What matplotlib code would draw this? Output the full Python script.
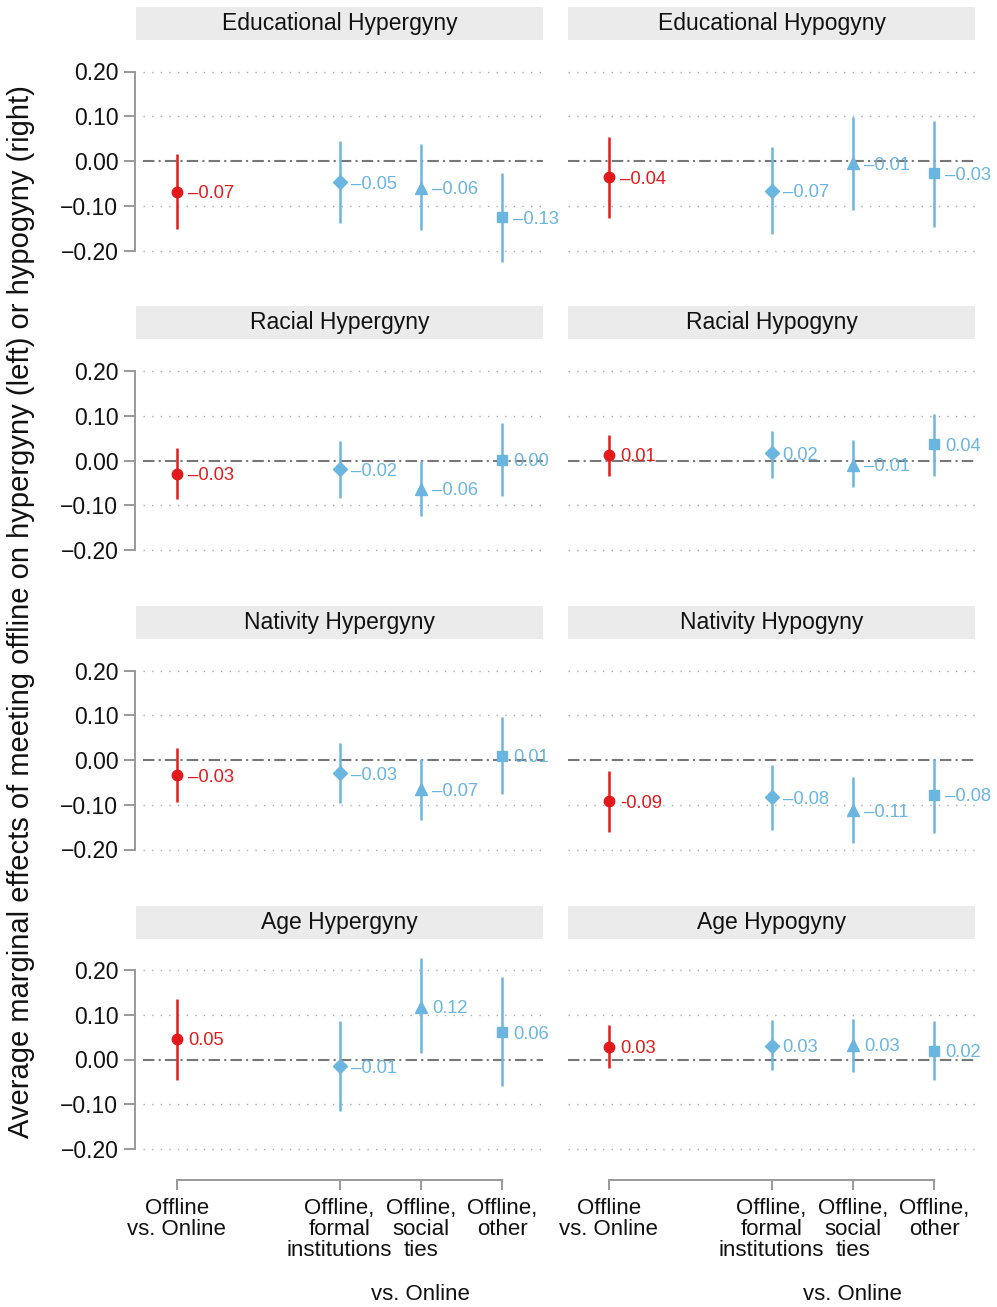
import matplotlib
matplotlib.use("Agg")
import matplotlib.pyplot as plt
from matplotlib.patches import Rectangle

plt.rcParams['font.family'] = ['Liberation Sans', 'DejaVu Sans']

# ---------------- data ----------------
panel_titles = ["Educational Hypergyny", "Educational Hypogyny",
                "Racial Hypergyny", "Racial Hypogyny",
                "Nativity Hypergyny", "Nativity Hypogyny",
                "Age Hypergyny", "Age Hypogyny"]

x_positions = [1, 3, 4, 5]
x_ticklabels = ["Offline\nvs. Online", "Offline,\nformal\ninstitutions",
                "Offline,\nsocial\nties", "Offline,\nother"]

est_edu_hyper = [-0.069, -0.048, -0.060, -0.126]
lo_edu_hyper = [-0.153, -0.139, -0.154, -0.226]
hi_edu_hyper = [0.015, 0.045, 0.037, -0.027]
lab_edu_hyper = ["\u20130.07", "\u20130.05", "\u20130.06", "\u20130.13"]

est_edu_hypo = [-0.036, -0.066, -0.005, -0.027]
lo_edu_hypo = [-0.127, -0.163, -0.109, -0.147]
hi_edu_hypo = [0.053, 0.031, 0.098, 0.090]
lab_edu_hypo = ["\u20130.04", "\u20130.07", "\u20130.01", "\u20130.03"]

est_race_hyper = [-0.030, -0.020, -0.063, 0.002]
lo_race_hyper = [-0.086, -0.083, -0.125, -0.080]
hi_race_hyper = [0.028, 0.043, 0.000, 0.084]
lab_race_hyper = ["\u20130.03", "\u20130.02", "\u20130.06", "0.00"]

est_race_hypo = [0.013, 0.016, -0.010, 0.036]
lo_race_hypo = [-0.034, -0.038, -0.060, -0.034]
hi_race_hypo = [0.058, 0.067, 0.045, 0.103]
lab_race_hypo = ["0.01", "0.02", "\u20130.01", "0.04"]

est_nat_hyper = [-0.034, -0.030, -0.065, 0.010]
lo_nat_hyper = [-0.094, -0.097, -0.133, -0.077]
hi_nat_hyper = [0.026, 0.037, 0.002, 0.096]
lab_nat_hyper = ["\u20130.03", "\u20130.03", "\u20130.07", "0.01"]

est_nat_hypo = [-0.092, -0.083, -0.112, -0.078]
lo_nat_hypo = [-0.162, -0.157, -0.186, -0.163]
hi_nat_hypo = [-0.024, -0.011, -0.039, 0.002]
lab_nat_hypo = ["-0.09", "\u20130.08", "\u20130.11", "\u20130.08"]

est_age_hyper = [0.046, -0.015, 0.118, 0.061]
lo_age_hyper = [-0.045, -0.114, 0.014, -0.060]
hi_age_hyper = [0.136, 0.085, 0.226, 0.184]
lab_age_hyper = ["0.05", "\u20130.01", "0.12", "0.06"]

est_age_hypo = [0.029, 0.031, 0.033, 0.020]
lo_age_hypo = [-0.019, -0.023, -0.028, -0.045]
hi_age_hypo = [0.078, 0.089, 0.091, 0.085]
lab_age_hypo = ["0.03", "0.03", "0.03", "0.02"]

panels = [
    (est_edu_hyper, lo_edu_hyper, hi_edu_hyper, lab_edu_hyper),
    (est_edu_hypo, lo_edu_hypo, hi_edu_hypo, lab_edu_hypo),
    (est_race_hyper, lo_race_hyper, hi_race_hyper, lab_race_hyper),
    (est_race_hypo, lo_race_hypo, hi_race_hypo, lab_race_hypo),
    (est_nat_hyper, lo_nat_hyper, hi_nat_hyper, lab_nat_hyper),
    (est_nat_hypo, lo_nat_hypo, hi_nat_hypo, lab_nat_hypo),
    (est_age_hyper, lo_age_hyper, hi_age_hyper, lab_age_hyper),
    (est_age_hypo, lo_age_hypo, hi_age_hypo, lab_age_hypo),
]

y_ticks = [-0.20, -0.10, 0.00, 0.10, 0.20]
y_ticklabels = ["\u22120.20", "\u22120.10", "0.00", "0.10", "0.20"]
y_label = "Average marginal effects of meeting offline on hypergyny (left) or hypogyny (right)"
x_label = "vs. Online"

# ---------------- style ----------------
RED = "#E31A1C"
BLUE = "#6BB5E1"
colors = [RED, BLUE, BLUE, BLUE]
markers = ["o", "D", "^", "s"]
msizes = [7.5, 7.0, 8.5, 7.0]
STRIP = "#EBEBEB"
SPINE = "#999999"

W, H = 997, 1307
fig = plt.figure(figsize=(W / 100, H / 100), dpi=100)

YLIM = (-0.25, 0.25)
px_per_unit = 179 / 0.4
ax_h_px = (YLIM[1] - YLIM[0]) * px_per_unit
col_x = [(136, 543), (568, 975)]
row_zero = [161, 460.5, 760, 1059.5]

for i, (est, lo, hi, labs) in enumerate(panels):
    r, c = divmod(i, 2)
    x0, x1 = col_x[c]
    zc = row_zero[r]
    top_px = zc - YLIM[1] * px_per_unit
    ax = fig.add_axes([x0 / W, 1 - (top_px + ax_h_px) / H, (x1 - x0) / W, ax_h_px / H])
    ax.set_xlim(0.5, 5.5)
    ax.set_ylim(*YLIM)
    ax.patch.set_visible(False)

    # grid
    gx0 = 7 / (x1 - x0) if c == 0 else 0.0
    for yv in y_ticks:
        if yv == 0:
            ax.axhline(0, xmin=gx0, xmax=1, color="#777777", lw=1.5,
                       ls=(0, (5.5, 2, 1, 2)), zorder=1)
        else:
            ax.axhline(yv, xmin=gx0, xmax=1, color="#AAAAAA", lw=1.0,
                       ls=(0, (1, 5.2)), zorder=1)

    for j, xp in enumerate(x_positions):
        ax.plot([xp, xp], [lo[j], hi[j]], color=colors[j], lw=1.8,
                solid_capstyle="butt", zorder=3, clip_on=False)
        ax.plot([xp], [est[j]], marker=markers[j], color=colors[j],
                ms=msizes[j], mec=colors[j], ls="none", zorder=4, clip_on=False)
        ax.annotate(labs[j], xy=(xp, est[j]), xytext=(8, 0),
                    textcoords="offset points", ha="left", va="center_baseline",
                    color=colors[j], fontsize=13.2, zorder=5)

    # strip
    strip_bottom = zc - 121
    strip = Rectangle((x0 / W, 1 - strip_bottom / H), (x1 - x0) / W, 33 / H,
                      transform=fig.transFigure, facecolor=STRIP, edgecolor="none")
    fig.add_artist(strip)
    fig.text((x0 + x1) / 2 / W, 1 - (strip_bottom - 16.5) / H, panel_titles[i],
             ha="center", va="center", fontsize=16.5, color="#111111")

    for s in ["top", "right"]:
        ax.spines[s].set_visible(False)

    if c == 0:
        ax.spines["left"].set_color(SPINE)
        ax.spines["left"].set_linewidth(1.4)
        ax.spines["left"].set_bounds(-0.2, 0.2)
        ax.spines["left"].set_position(("outward", 0.7))
        ax.set_yticks(y_ticks)
        ax.set_yticklabels(y_ticklabels)
        ax.tick_params(axis="y", length=8, width=1.4, color=SPINE, pad=4,
                       labelsize=16.5, labelcolor="#111111")
    else:
        ax.spines["left"].set_visible(False)
        ax.set_yticks([])

    if r == 3:
        ax.spines["bottom"].set_color(SPINE)
        ax.spines["bottom"].set_linewidth(1.4)
        ax.spines["bottom"].set_bounds(1, 5)
        ax.spines["bottom"].set_position(("outward", 6.5))
        ax.set_xticks(x_positions)
        ax.set_xticklabels(x_ticklabels, linespacing=1.0)
        ax.tick_params(axis="x", length=7, width=1.4, color=SPINE, pad=5.5,
                       labelsize=16, labelcolor="#111111")
        ax_bottom_px = top_px + ax_h_px
        ax.text(4, -(1294 - ax_bottom_px) / ax_h_px, x_label,
                transform=ax.get_xaxis_transform(),
                ha="center", va="center", fontsize=16, color="#111111")
    else:
        ax.spines["bottom"].set_visible(False)
        ax.set_xticks([])

fig.text(21 / W, 1 - 612 / H, y_label, rotation=90, ha="center", va="center",
         fontsize=21, color="#111111")

fig.savefig("out.png", dpi=100)
